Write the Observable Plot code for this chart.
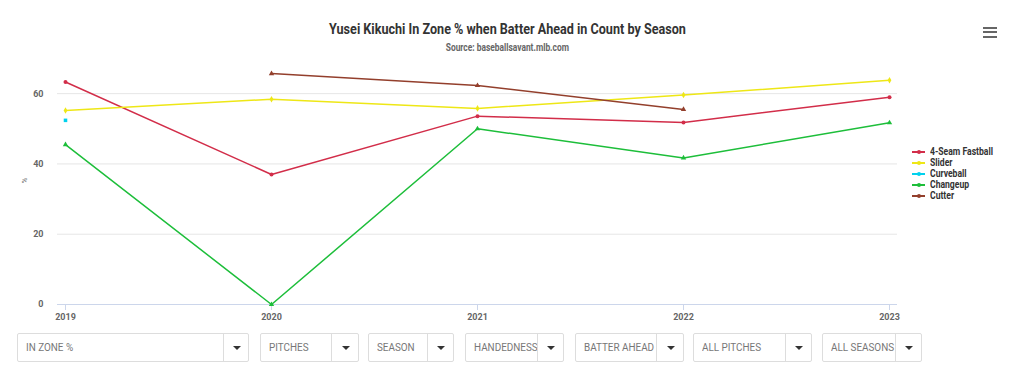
<!DOCTYPE html>
<html>
<head>
<meta charset="utf-8">
<script src="https://cdn.jsdelivr.net/npm/d3@7"></script>
<script src="https://cdn.jsdelivr.net/npm/@observablehq/plot@0.6"></script>
<style>
  html, body { margin: 0; padding: 0; background: #fff; width: 1024px; height: 382px; overflow: hidden; font-family: Roboto, "Noto Sans", sans-serif; }
  #wrap { position: relative; width: 1024px; height: 382px; }
  #chart { position: absolute; left: 0; top: 0; }
  .title { position: absolute; left: 0; width: 1014px; text-align: center; font-weight: 700; color: #333; white-space: nowrap; }
  .title span { display: inline-block; transform: scaleX(0.84); transform-origin: center; }
  #t1 { top: 20px; font-size: 15px; }
  #t2 { top: 42px; font-size: 10px; color: #666; }
  #menu { position: absolute; left: 983px; top: 27px; width: 14px; }
  #menu div { height: 2px; background: #666; margin-bottom: 2.3px; }
  #legend { position: absolute; left: 912px; top: 146px; font-size: 10px; font-weight: 700; color: #333; }
  .li { height: 11px; line-height: 11px; position: relative; white-space: nowrap; }
  .li .ln { position: absolute; left: 0; top: 5px; width: 13px; height: 2px; }
  .li .mk { position: absolute; left: 5px; top: 4px; width: 4px; height: 4px; border-radius: 2px; }
  .li .tx { position: absolute; left: 18px; top: 0; display: inline-block; transform: scaleX(0.86); transform-origin: left; }
  .dd { position: absolute; top: 333px; height: 29px; border: 1px solid #ddd; border-radius: 2px; box-sizing: border-box; background: #fff; }
  .dd .lab { position: absolute; left: 8px; top: 0; line-height: 27px; font-size: 11.5px; color: #777; white-space: nowrap; display: inline-block; transform: scaleX(0.86); transform-origin: left; }
  .dd .div { position: absolute; top: 0; bottom: 0; width: 1px; background: #ddd; }
  .dd .car { position: absolute; top: 12px; width: 0; height: 0; border-left: 4px solid transparent; border-right: 4px solid transparent; border-top: 4px solid #333; }
</style>
</head>
<body>
<div id="wrap">
  <div id="chart"></div>
  <div class="title" id="t1"><span>Yusei Kikuchi In Zone % when Batter Ahead in Count by Season</span></div>
  <div class="title" id="t2"><span>Source: baseballsavant.mlb.com</span></div>
  <div id="menu"><div></div><div></div><div></div></div>
  <div id="legend"></div>
  <div id="dropdowns"></div>
</div>
<script>
const seasons = [2019, 2020, 2021, 2022, 2023];
const pitchTypes = ["4-Seam Fastball", "Slider", "Curveball", "Changeup", "Cutter"];
const pitchColors = ["#d22d49", "#eee716", "#00d1ed", "#1dbe3a", "#933f2c"];
const pitchSymbols = ["circle", "diamond", "square", "triangle", "triangle"];
const fastball = [63.3, 37.0, 53.6, 51.8, 59.0];
const slider = [55.2, 58.4, 55.8, 59.6, 63.8];
const curveball = [52.4, null, null, null, null];
const changeup = [45.5, 0.0, 50.0, 41.7, 51.7];
const cutter = [null, 65.7, 62.3, 55.5, null];
const yTicks = [0, 20, 40, 60];
const dropdownLabels = ["IN ZONE %", "PITCHES", "SEASON", "HANDEDNESS", "BATTER AHEAD", "ALL PITCHES", "ALL SEASONS"];

const seriesValues = [fastball, slider, curveball, changeup, cutter];
const rows = [];
pitchTypes.forEach((p, i) => {
  seasons.forEach((s, j) => {
    rows.push({pitch: p, season: s, value: seriesValues[i][j]});
  });
});
const defined = rows.filter(d => d.value != null);

const chart = Plot.plot({
  width: 1024,
  height: 382,
  marginTop: 58,
  marginBottom: 78,
  marginLeft: 57,
  marginRight: 127,
  style: {fontFamily: "Roboto, sans-serif", fontSize: "9px", fontWeight: 700, color: "#666", background: "transparent"},
  x: {type: "point", domain: seasons, padding: 0.036, label: null},
  y: {domain: [0, 70], label: null},
  color: {domain: pitchTypes, range: pitchColors},
  symbol: {domain: pitchTypes, range: pitchSymbols},
  marks: [
    Plot.gridY(yTicks, {stroke: "#e6e6e6", strokeOpacity: 1, strokeWidth: 1}),
    Plot.ruleY([0], {stroke: "#ccd6eb", strokeWidth: 1}),
    Plot.axisY(yTicks, {tickSize: 0, tickPadding: 14, fill: "#666", fontWeight: 700}),
    Plot.axisX(seasons, {tickSize: 6, stroke: "#ccd6eb", tickPadding: 3, fill: "#666", fontWeight: 700, tickFormat: d => String(d)}),
    Plot.text(["%"], {frameAnchor: "left", dx: -33, dy: 2, rotate: -90, fill: "#666", fontSize: 8, fontWeight: 400}),
    Plot.line(rows, {x: "season", y: "value", z: "pitch", stroke: "pitch", strokeWidth: 1.5}),
    Plot.dot(defined, {x: "season", y: "value", fill: "pitch", symbol: "pitch", r: 2})
  ]
});
document.getElementById("chart").appendChild(chart);

const legend = document.getElementById("legend");
pitchTypes.forEach((p, i) => {
  const el = document.createElement("div");
  el.className = "li";
  el.innerHTML = `<span class="ln" style="background:${pitchColors[i]}"></span><span class="mk" style="background:${pitchColors[i]}"></span><span class="tx">${p}</span>`;
  legend.appendChild(el);
});

const ddBoxes = [[17, 249, 222], [260, 359, 330], [368, 454, 426], [465, 564, 536], [575, 684, 655], [693, 812, 784], [822, 922, 894]];
const dd = document.getElementById("dropdowns");
dropdownLabels.forEach((lab, i) => {
  const [x0, x1, xd] = ddBoxes[i];
  const el = document.createElement("div");
  el.className = "dd";
  el.style.left = x0 + "px";
  el.style.width = (x1 - x0) + "px";
  const dv = xd - x0;
  const cx = (xd + x1) / 2 - x0 - 4;
  el.innerHTML = `<span class="lab">${lab}</span><span class="div" style="left:${dv}px"></span><span class="car" style="left:${cx}px"></span>`;
  dd.appendChild(el);
});
</script>
</body>
</html>
